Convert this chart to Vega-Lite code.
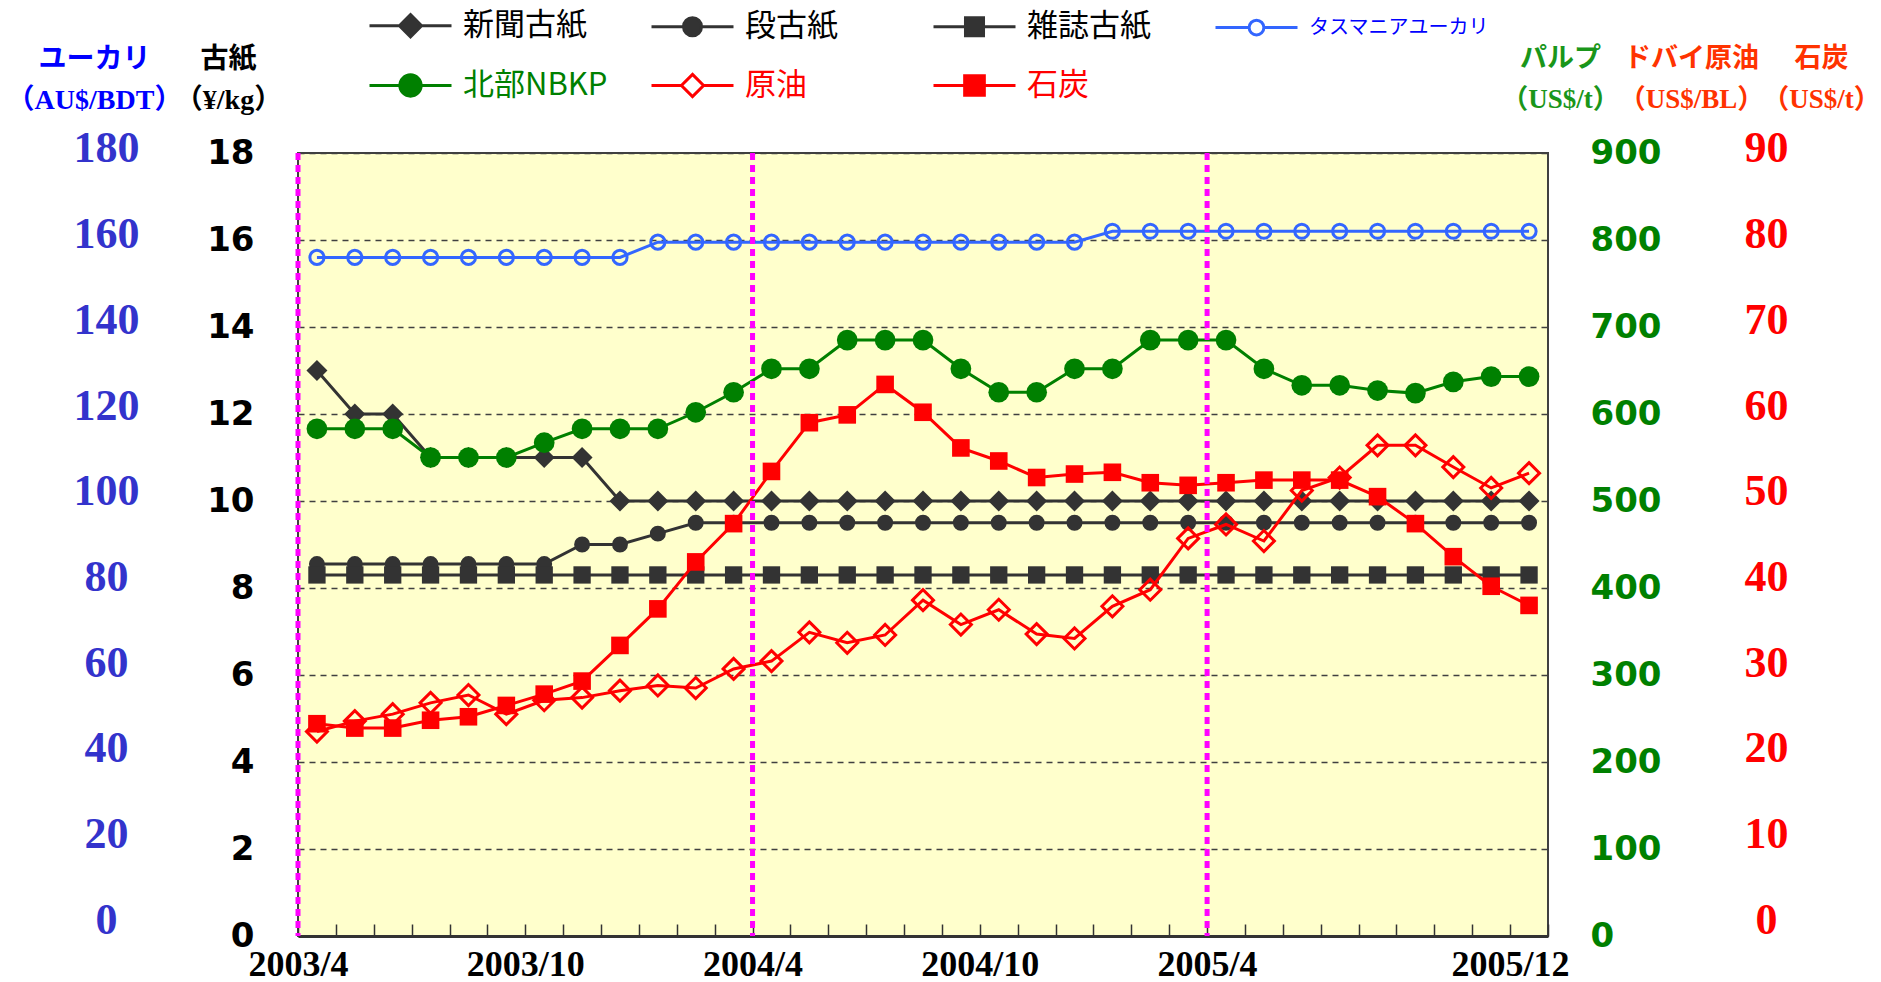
{
  "$schema": "https://vega.github.io/schema/vega-lite/v6.json",
  "width": 1250,
  "height": 783,
  "autosize": {"type": "none"},
  "padding": {"left": 298, "top": 153, "right": 333, "bottom": 46},
  "background": "white",
  "config": {
    "view": {"fill": "#FFFFCC", "stroke": "#404040", "strokeWidth": 2}
  },
  "data": {
    "values": [
      {"month": "2003/4", "news": 13, "cardboard": 8.55, "magazine": 8.3, "eucalyptus": 156, "nbkp": 583, "oil": 23.5, "coal": 24.4},
      {"month": "2003/5", "news": 12, "cardboard": 8.55, "magazine": 8.3, "eucalyptus": 156, "nbkp": 583, "oil": 24.7, "coal": 23.9},
      {"month": "2003/6", "news": 12, "cardboard": 8.55, "magazine": 8.3, "eucalyptus": 156, "nbkp": 583, "oil": 25.5, "coal": 23.9},
      {"month": "2003/7", "news": 11, "cardboard": 8.55, "magazine": 8.3, "eucalyptus": 156, "nbkp": 550, "oil": 26.8, "coal": 24.8},
      {"month": "2003/8", "news": 11, "cardboard": 8.55, "magazine": 8.3, "eucalyptus": 156, "nbkp": 550, "oil": 27.7, "coal": 25.2},
      {"month": "2003/9", "news": 11, "cardboard": 8.55, "magazine": 8.3, "eucalyptus": 156, "nbkp": 550, "oil": 25.5, "coal": 26.5},
      {"month": "2003/10", "news": 11, "cardboard": 8.55, "magazine": 8.3, "eucalyptus": 156, "nbkp": 567, "oil": 27.1, "coal": 27.8},
      {"month": "2003/11", "news": 11, "cardboard": 9, "magazine": 8.3, "eucalyptus": 156, "nbkp": 583, "oil": 27.4, "coal": 29.3},
      {"month": "2003/12", "news": 10, "cardboard": 9, "magazine": 8.3, "eucalyptus": 156, "nbkp": 583, "oil": 28.2, "coal": 33.4},
      {"month": "2004/1", "news": 10, "cardboard": 9.25, "magazine": 8.3, "eucalyptus": 159.5, "nbkp": 583, "oil": 28.8, "coal": 37.6},
      {"month": "2004/2", "news": 10, "cardboard": 9.5, "magazine": 8.3, "eucalyptus": 159.5, "nbkp": 602, "oil": 28.5, "coal": 43.0},
      {"month": "2004/3", "news": 10, "cardboard": 9.5, "magazine": 8.3, "eucalyptus": 159.5, "nbkp": 625, "oil": 30.7, "coal": 47.4},
      {"month": "2004/4", "news": 10, "cardboard": 9.5, "magazine": 8.3, "eucalyptus": 159.5, "nbkp": 652, "oil": 31.6, "coal": 53.4},
      {"month": "2004/5", "news": 10, "cardboard": 9.5, "magazine": 8.3, "eucalyptus": 159.5, "nbkp": 652, "oil": 34.9, "coal": 59.0},
      {"month": "2004/6", "news": 10, "cardboard": 9.5, "magazine": 8.3, "eucalyptus": 159.5, "nbkp": 685, "oil": 33.7, "coal": 59.9},
      {"month": "2004/7", "news": 10, "cardboard": 9.5, "magazine": 8.3, "eucalyptus": 159.5, "nbkp": 685, "oil": 34.6, "coal": 63.4},
      {"month": "2004/8", "news": 10, "cardboard": 9.5, "magazine": 8.3, "eucalyptus": 159.5, "nbkp": 685, "oil": 38.6, "coal": 60.2},
      {"month": "2004/9", "news": 10, "cardboard": 9.5, "magazine": 8.3, "eucalyptus": 159.5, "nbkp": 652, "oil": 35.8, "coal": 56.1},
      {"month": "2004/10", "news": 10, "cardboard": 9.5, "magazine": 8.3, "eucalyptus": 159.5, "nbkp": 625, "oil": 37.5, "coal": 54.6},
      {"month": "2004/11", "news": 10, "cardboard": 9.5, "magazine": 8.3, "eucalyptus": 159.5, "nbkp": 625, "oil": 34.7, "coal": 52.7},
      {"month": "2004/12", "news": 10, "cardboard": 9.5, "magazine": 8.3, "eucalyptus": 159.5, "nbkp": 652, "oil": 34.2, "coal": 53.1},
      {"month": "2005/1", "news": 10, "cardboard": 9.5, "magazine": 8.3, "eucalyptus": 162, "nbkp": 652, "oil": 37.9, "coal": 53.3},
      {"month": "2005/2", "news": 10, "cardboard": 9.5, "magazine": 8.3, "eucalyptus": 162, "nbkp": 685, "oil": 39.8, "coal": 52.1},
      {"month": "2005/3", "news": 10, "cardboard": 9.5, "magazine": 8.3, "eucalyptus": 162, "nbkp": 685, "oil": 45.7, "coal": 51.8},
      {"month": "2005/4", "news": 10, "cardboard": 9.5, "magazine": 8.3, "eucalyptus": 162, "nbkp": 685, "oil": 47.3, "coal": 52.1},
      {"month": "2005/5", "news": 10, "cardboard": 9.5, "magazine": 8.3, "eucalyptus": 162, "nbkp": 652, "oil": 45.4, "coal": 52.4},
      {"month": "2005/6", "news": 10, "cardboard": 9.5, "magazine": 8.3, "eucalyptus": 162, "nbkp": 633, "oil": 51.2, "coal": 52.4},
      {"month": "2005/7", "news": 10, "cardboard": 9.5, "magazine": 8.3, "eucalyptus": 162, "nbkp": 633, "oil": 52.7, "coal": 52.4},
      {"month": "2005/8", "news": 10, "cardboard": 9.5, "magazine": 8.3, "eucalyptus": 162, "nbkp": 627, "oil": 56.4, "coal": 50.5},
      {"month": "2005/9", "news": 10, "cardboard": 9.5, "magazine": 8.3, "eucalyptus": 162, "nbkp": 624, "oil": 56.4, "coal": 47.4},
      {"month": "2005/10", "news": 10, "cardboard": 9.5, "magazine": 8.3, "eucalyptus": 162, "nbkp": 637, "oil": 53.9, "coal": 43.6},
      {"month": "2005/11", "news": 10, "cardboard": 9.5, "magazine": 8.3, "eucalyptus": 162, "nbkp": 643, "oil": 51.5, "coal": 40.2},
      {"month": "2005/12", "news": 10, "cardboard": 9.5, "magazine": 8.3, "eucalyptus": 162, "nbkp": 643, "oil": 53.2, "coal": 38.0}
    ]
  },
  "encoding": {
    "x": {
      "field": "month",
      "type": "ordinal",
      "title": null,
      "scale": {
        "type": "band",
        "paddingInner": 0,
        "paddingOuter": 0,
        "domain": ["2003/4","2003/5","2003/6","2003/7","2003/8","2003/9","2003/10","2003/11","2003/12","2004/1","2004/2","2004/3","2004/4","2004/5","2004/6","2004/7","2004/8","2004/9","2004/10","2004/11","2004/12","2005/1","2005/2","2005/3","2005/4","2005/5","2005/6","2005/7","2005/8","2005/9","2005/10","2005/11","2005/12"]
      },
      "axis": {
        "orient": "bottom",
        "tickBand": "extent",
        "labelOffset": -19,
        "labelExpr": "indexof(['2003/4','2003/10','2004/4','2004/10','2005/4','2005/12'], datum.label) >= 0 ? datum.label : ''",
        "labelFont": "Liberation Serif",
        "labelFontWeight": "bold",
        "labelFontSize": 36,
        "labelColor": "#000000",
        "labelAngle": 0,
        "labelAlign": "center",
        "labelBaseline": "top",
        "labelPadding": 23,
        "labelOverlap": false,
        "labelBound": false,
        "ticks": true,
        "tickSize": -12,
        "tickColor": "#333333",
        "tickWidth": 1.5,
        "domain": true,
        "domainColor": "#333333",
        "domainWidth": 3,
        "grid": false
      }
    }
  },
  "layer": [
    {
      "mark": {"type": "line", "color": "#333333", "strokeWidth": 3,
        "point": {"shape": "diamond", "size": 441, "filled": true, "color": "#333333", "opacity": 1}},
      "encoding": {
        "y": {
          "field": "news", "type": "quantitative",
          "scale": {"domain": [0, 18], "nice": false},
          "axis": {
            "orient": "left",
            "values": [0, 2, 4, 6, 8, 10, 12, 14, 16, 18],
            "labelFont": "DejaVu Sans", "labelFontWeight": "bold", "labelFontSize": 34, "labelColor": "#000000",
            "labelAlign": "right", "labelBaseline": "middle", "labelPadding": 44,
            "ticks": false, "domain": false,
            "grid": true, "gridDash": [6, 5], "gridColor": "#404040", "gridWidth": 1.5, "gridOpacity": 1,
            "title": ["古紙", "（¥/kg）"],
            "titleFont": "'Liberation Serif', 'Noto Sans CJK JP'", "titleFontWeight": "bold", "titleFontSize": 28,
            "titleColor": "#000000", "titleAngle": 0, "titleAlign": "center", "titleBaseline": "top",
            "titleX": -70, "titleY": -108, "titleLineHeight": 41
          }
        }
      }
    },
    {
      "mark": {"type": "line", "color": "#333333", "strokeWidth": 3,
        "point": {"shape": "circle", "size": 254, "filled": true, "color": "#333333", "opacity": 1}},
      "encoding": {
        "y": {"field": "cardboard", "type": "quantitative", "scale": {"domain": [0, 18], "nice": false}, "axis": null}
      }
    },
    {
      "mark": {"type": "line", "color": "#333333", "strokeWidth": 3,
        "point": {"shape": "square", "size": 300, "filled": true, "color": "#333333", "opacity": 1}},
      "encoding": {
        "y": {"field": "magazine", "type": "quantitative", "scale": {"domain": [0, 18], "nice": false}, "axis": null}
      }
    },
    {
      "mark": {"type": "line", "color": "#3366FF", "strokeWidth": 3,
        "point": {"shape": "circle", "size": 200, "filled": false, "color": "#3366FF", "strokeWidth": 3, "opacity": 1}},
      "encoding": {
        "y": {"field": "eucalyptus", "type": "quantitative", "scale": {"domain": [0, 180], "nice": false}, "axis": null}
      }
    },
    {
      "transform": [{"filter": "false"}],
      "mark": {"type": "line"},
      "encoding": {
        "y": {
          "field": "eucalyptus", "type": "quantitative",
          "scale": {"domain": [0, 180], "nice": false, "range": [767.4, -4.2]},
          "axis": {
            "orient": "left",
            "values": [0, 20, 40, 60, 80, 100, 120, 140, 160, 180],
            "labelFont": "Liberation Serif", "labelFontWeight": "bold", "labelFontSize": 44, "labelColor": "#3333CC",
            "labelAlign": "center", "labelBaseline": "middle", "labelPadding": 192,
            "ticks": false, "domain": false, "grid": false,
            "title": ["ユーカリ", "（AU$/BDT）"],
            "titleFont": "'Liberation Serif', 'Noto Sans CJK JP'", "titleFontWeight": "bold", "titleFontSize": 28,
            "titleColor": "#0000FF", "titleAngle": 0, "titleAlign": "center", "titleBaseline": "top",
            "titleX": -204, "titleY": -108, "titleLineHeight": 41
          }
        }
      }
    },
    {
      "mark": {"type": "line", "color": "#008000", "strokeWidth": 3,
        "point": {"shape": "circle", "size": 430, "filled": true, "color": "#008000", "opacity": 1}},
      "encoding": {
        "y": {
          "field": "nbkp", "type": "quantitative",
          "scale": {"domain": [0, 900], "nice": false},
          "axis": {
            "orient": "right",
            "values": [0, 100, 200, 300, 400, 500, 600, 700, 800, 900],
            "labelFont": "DejaVu Sans", "labelFontWeight": "bold", "labelFontSize": 34, "labelColor": "#008000",
            "labelAlign": "left", "labelBaseline": "middle", "labelPadding": 42,
            "ticks": false, "domain": false, "grid": false,
            "title": ["パルプ", "（US$/t）"],
            "titleFont": "'Liberation Serif', 'Noto Sans CJK JP'", "titleFontWeight": "bold", "titleFontSize": 27,
            "titleColor": "#1A961A", "titleAngle": 0, "titleAlign": "center", "titleBaseline": "top",
            "titleX": 12, "titleY": -108, "titleLineHeight": 41
          }
        }
      }
    },
    {
      "mark": {"type": "line", "color": "#FF0000", "strokeWidth": 3,
        "point": {"shape": "square", "size": 310, "filled": true, "color": "#FF0000", "opacity": 1}},
      "encoding": {
        "y": {
          "field": "coal", "type": "quantitative",
          "scale": {"domain": [0, 90], "nice": false},
          "axis": {
            "orient": "right",
            "labels": false, "ticks": false, "domain": false, "grid": false,
            "title": ["石炭", "（US$/t）"],
            "titleFont": "'Liberation Serif', 'Noto Sans CJK JP'", "titleFontWeight": "bold", "titleFontSize": 27,
            "titleColor": "#FF3300", "titleAngle": 0, "titleAlign": "center", "titleBaseline": "top",
            "titleX": 273, "titleY": -108, "titleLineHeight": 41
          }
        }
      }
    },
    {
      "mark": {"type": "line", "color": "#FF0000", "strokeWidth": 3,
        "point": {"shape": "diamond", "size": 441, "filled": false, "color": "#FF0000", "strokeWidth": 3, "opacity": 1}},
      "encoding": {
        "y": {"field": "oil", "type": "quantitative", "scale": {"domain": [0, 90], "nice": false}, "axis": null}
      }
    },
    {
      "transform": [{"filter": "false"}],
      "mark": {"type": "line"},
      "encoding": {
        "y": {
          "field": "oil", "type": "quantitative",
          "scale": {"domain": [0, 90], "nice": false, "range": [767.4, -4.2]},
          "axis": {
            "orient": "right",
            "values": [0, 10, 20, 30, 40, 50, 60, 70, 80, 90],
            "labelFont": "Liberation Serif", "labelFontWeight": "bold", "labelFontSize": 44, "labelColor": "#FF0000",
            "labelAlign": "center", "labelBaseline": "middle", "labelPadding": 218,
            "ticks": false, "domain": false, "grid": false,
            "title": ["ドバイ原油", "（US$/BL）"],
            "titleFont": "'Liberation Serif', 'Noto Sans CJK JP'", "titleFontWeight": "bold", "titleFontSize": 27,
            "titleColor": "#FF3300", "titleAngle": 0, "titleAlign": "center", "titleBaseline": "top",
            "titleX": 143, "titleY": -108, "titleLineHeight": 41
          }
        }
      }
    },
    {
      "transform": [{"filter": {"field": "month", "oneOf": ["2003/4", "2004/4", "2005/4"]}}],
      "mark": {"type": "rule", "color": "#FF00FF", "strokeWidth": 5, "strokeDash": [7, 5]},
      "encoding": {
        "x": {"field": "month", "type": "ordinal", "bandPosition": 0, "title": null}
      }
    },
    {
      "data": {"values": [
        {"series": "新聞古紙"}, {"series": "段古紙"}, {"series": "雑誌古紙"}, {"series": "タスマニアユーカリ"},
        {"series": "北部NBKP"}, {"series": "原油"}, {"series": "石炭"}
      ]},
      "transform": [{"filter": "false"}],
      "mark": {"type": "point", "opacity": 1, "strokeWidth": 3},
      "encoding": {
        "x": {"field": "month", "type": "ordinal", "title": null},
        "shape": {
          "field": "series", "type": "nominal",
          "scale": {
            "domain": ["新聞古紙", "段古紙", "雑誌古紙", "タスマニアユーカリ", "北部NBKP", "原油", "石炭"],
            "range": [
              "M-1,0H-0.27M0.27,0H1M0,-0.27L0.27,0L0,0.27L-0.27,0Z",
              "M-1,0H-0.22M0.22,0H1M0.22,0A0.22,0.22,0,1,1,-0.22,0A0.22,0.22,0,1,1,0.22,0Z",
              "M-1,0H-0.22M0.22,0H1M-0.22,-0.22H0.22V0.22H-0.22Z",
              "M-1,0H-0.18M0.18,0H1M0.18,0A0.18,0.18,0,1,1,-0.18,0A0.18,0.18,0,1,1,0.18,0Z",
              "M-1,0H-0.26M0.26,0H1M0.26,0A0.26,0.26,0,1,1,-0.26,0A0.26,0.26,0,1,1,0.26,0Z",
              "M-1,0H-0.27M0.27,0H1M0,-0.27L0.27,0L0,0.27L-0.27,0Z",
              "M-1,0H-0.24M0.24,0H1M-0.24,-0.24H0.24V0.24H-0.24Z"
            ]
          },
          "legend": {
            "orient": "none", "legendX": 70, "legendY": -170,
            "direction": "horizontal",
            "columns": 4, "gridAlign": "all", "title": null, "padding": 0,
            "symbolSize": 6724, "symbolStrokeWidth": 3, "symbolOpacity": 1,
            "labelFont": "Noto Sans CJK JP",
            "labelFontSize": {"expr": "datum.label == 'タスマニアユーカリ' ? 20 : 31"},
            "labelColor": {"expr": "datum.label == 'タスマニアユーカリ' ? '#0000FF' : datum.label == '北部NBKP' ? '#008000' : (datum.label == '原油' || datum.label == '石炭') ? '#FF0000' : '#000000'"},
            "labelOffset": 10, "labelLimit": 500, "labelBaseline": "middle",
            "rowPadding": -15, "columnPadding": 2
          }
        },
        "stroke": {
          "field": "series", "type": "nominal",
          "scale": {
            "domain": ["新聞古紙", "段古紙", "雑誌古紙", "タスマニアユーカリ", "北部NBKP", "原油", "石炭"],
            "range": ["#333333", "#333333", "#333333", "#3366FF", "#008000", "#FF0000", "#FF0000"]
          }
        },
        "fill": {
          "field": "series", "type": "nominal",
          "scale": {
            "domain": ["新聞古紙", "段古紙", "雑誌古紙", "タスマニアユーカリ", "北部NBKP", "原油", "石炭"],
            "range": ["#333333", "#333333", "#333333", "#FFFFFF", "#008000", "#FFFFFF", "#FF0000"]
          }
        }
      }
    }
  ],
  "resolve": {"scale": {"y": "independent"}}
}
